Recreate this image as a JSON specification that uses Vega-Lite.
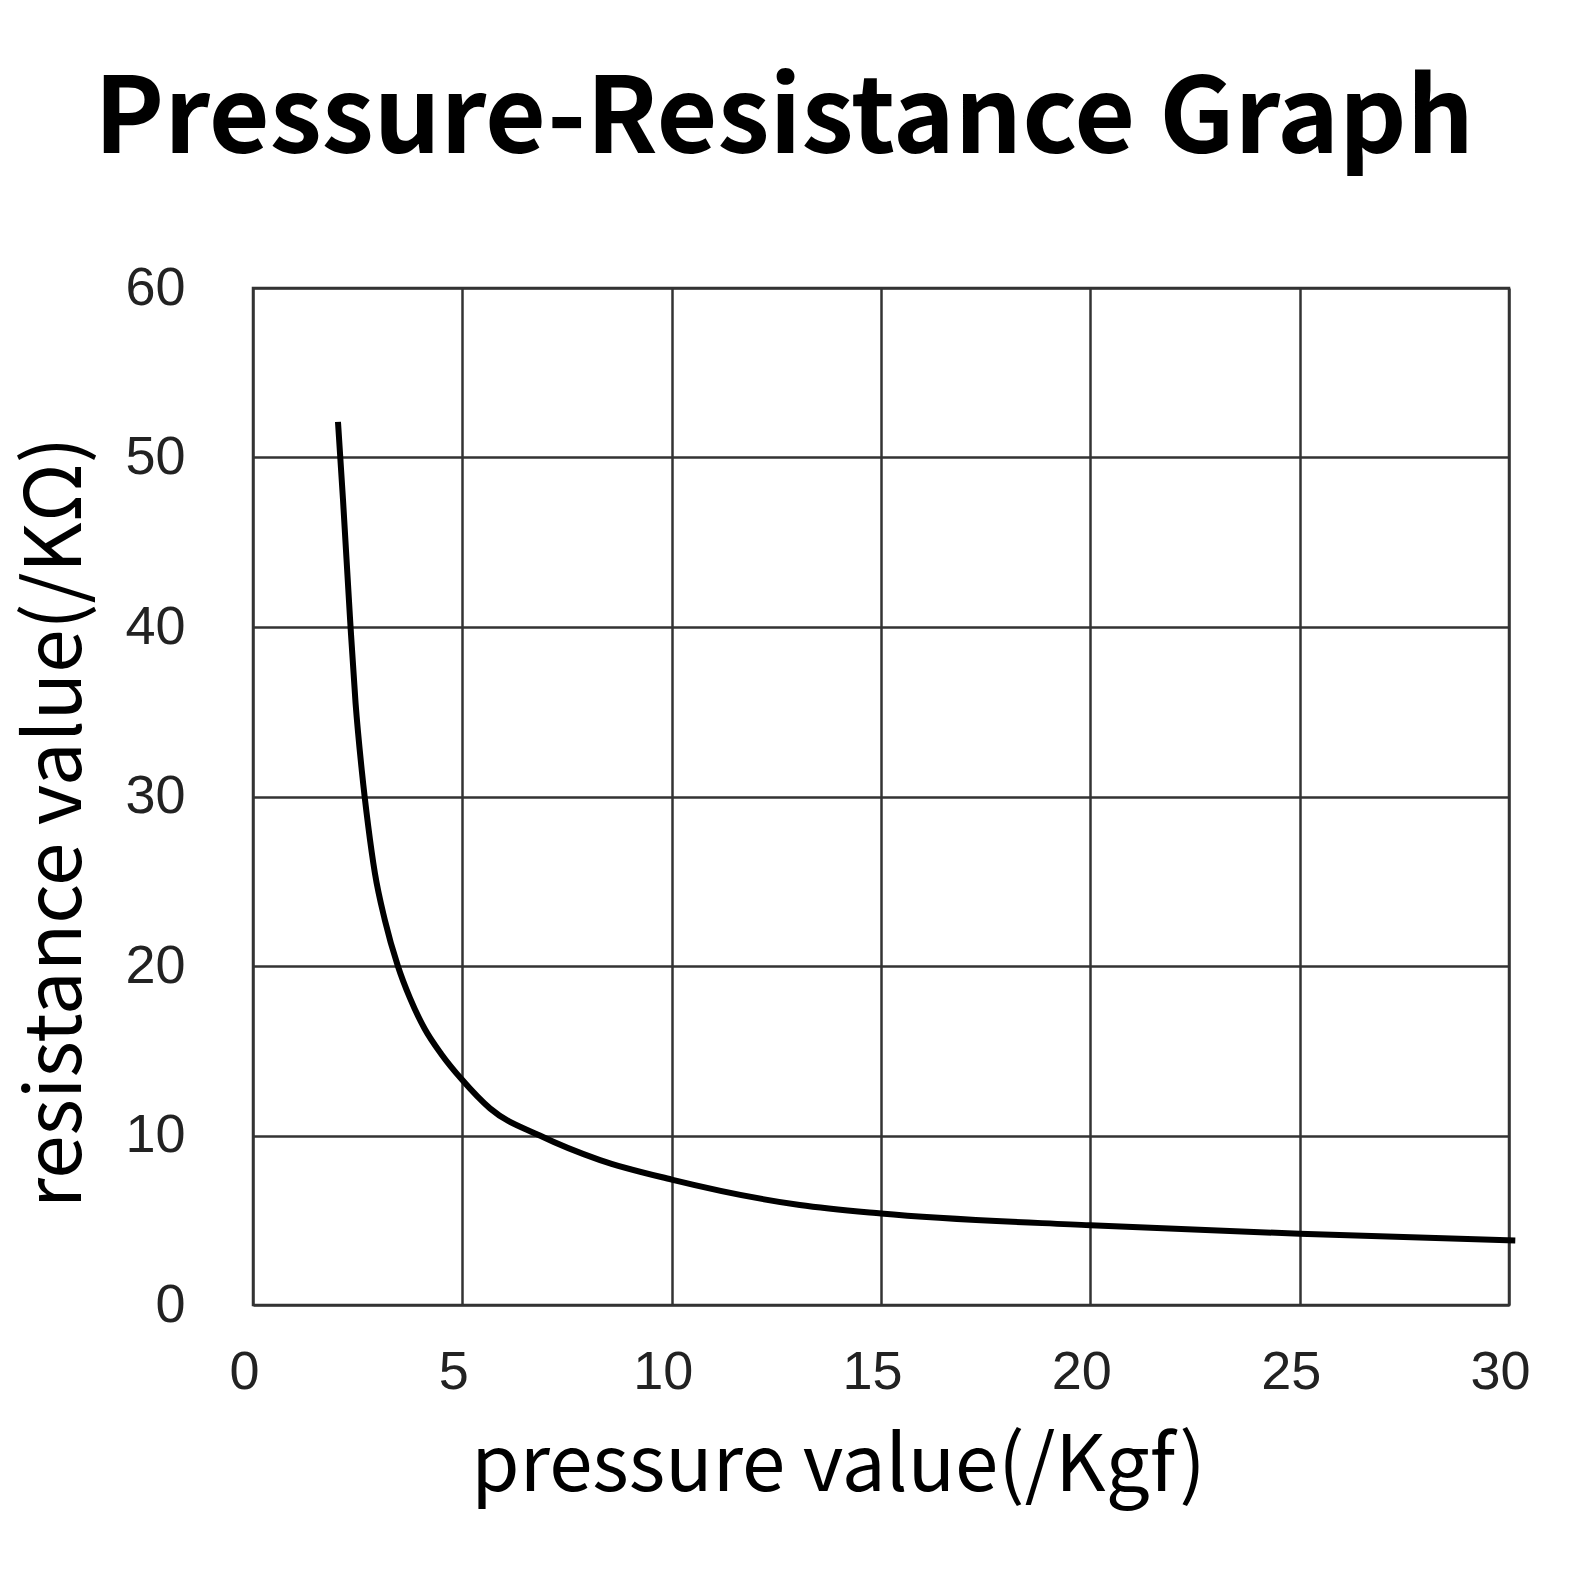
{
  "$schema": "https://vega.github.io/schema/vega-lite/v6.json",
  "autosize": {"type": "none"},
  "width": 1256,
  "height": 1017,
  "padding": {"left": 253, "top": 288, "right": 60, "bottom": 264},
  "background": "white",
  "title": {
    "text": "Pressure-Resistance Graph",
    "font": "Noto Sans CJK SC",
    "fontSize": 105,
    "fontWeight": "bold",
    "color": "#000000",
    "anchor": "middle",
    "baseline": "alphabetic",
    "dx": -97,
    "offset": 3
  },
  "data": {
    "values": [
      {"p": 2.03, "r": 52.1},
      {"p": 2.15, "r": 47.5},
      {"p": 2.32, "r": 40.4},
      {"p": 2.45, "r": 35.5},
      {"p": 2.6, "r": 31.5},
      {"p": 2.75, "r": 28.3},
      {"p": 2.91, "r": 25.5},
      {"p": 3.15, "r": 22.7},
      {"p": 3.46, "r": 20.0},
      {"p": 3.75, "r": 18.1},
      {"p": 4.1, "r": 16.3},
      {"p": 4.5, "r": 14.8},
      {"p": 4.99, "r": 13.3},
      {"p": 5.66, "r": 11.6},
      {"p": 6.85, "r": 10.0},
      {"p": 8.29, "r": 8.55},
      {"p": 10.0, "r": 7.4},
      {"p": 13.06, "r": 5.9},
      {"p": 15.0, "r": 5.4},
      {"p": 20.0, "r": 4.7},
      {"p": 25.0, "r": 4.2},
      {"p": 30.15, "r": 3.8}
    ]
  },
  "mark": {"type": "line", "color": "#000000", "strokeWidth": 6, "interpolate": "monotone", "clip": false},
  "encoding": {
    "x": {
      "field": "p",
      "type": "quantitative",
      "scale": {"domain": [0, 30], "nice": false, "zero": true},
      "axis": {
        "values": [0, 5, 10, 15, 20, 25, 30],
        "title": "pressure value(/Kgf)",
        "titleX": 585,
        "titleY": 185,
        "titleAnchor": null,
        "titleAlign": "center",
        "titleBaseline": "alphabetic",
        "labelOffset": -9,
        "labelPadding": 40
      }
    },
    "y": {
      "field": "r",
      "type": "quantitative",
      "scale": {"domain": [0, 60], "nice": false},
      "axis": {
        "values": [0, 10, 20, 30, 40, 50, 60],
        "title": "resistance value(/KΩ)",
        "titleX": -173,
        "titleY": 534,
        "titleAngle": 270,
        "titleAlign": "center",
        "titleBaseline": "alphabetic",
        "labelPadding": 68
      }
    }
  },
  "config": {
    "view": {"stroke": "#333333", "strokeWidth": 2.5},
    "axis": {
      "domain": false,
      "ticks": false,
      "grid": true,
      "gridColor": "#333333",
      "gridWidth": 2.5,
      "gridOpacity": 1,
      "labelFont": "Liberation Sans",
      "labelFontSize": 54,
      "labelColor": "#222222",
      "labelFlush": false,
      "labelOverlap": false,
      "titleFont": "Noto Sans CJK SC",
      "titleFontSize": 78,
      "titleFontWeight": "normal",
      "titleColor": "#000000"
    }
  }
}
